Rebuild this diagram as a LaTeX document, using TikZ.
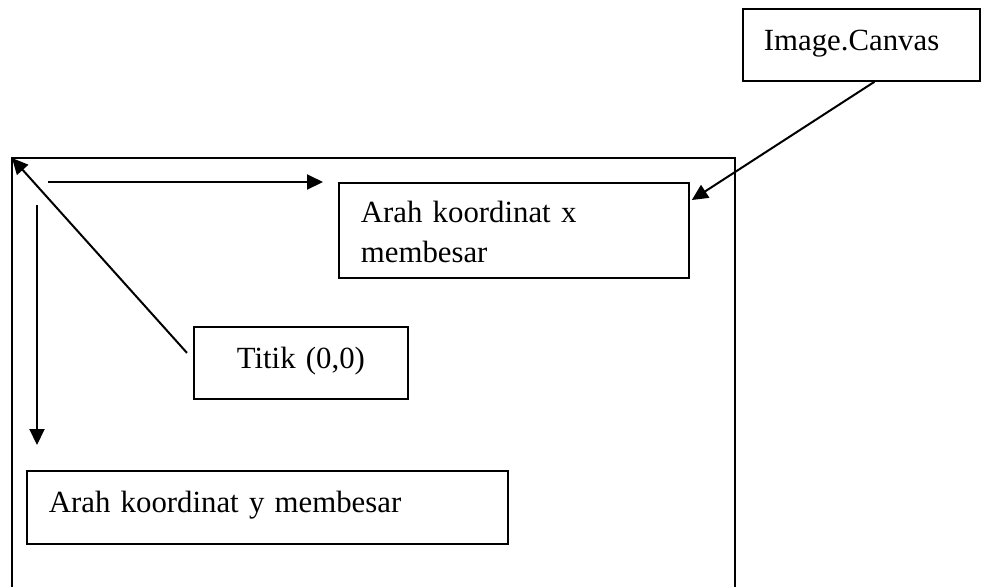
\documentclass[tikz,border=0pt]{standalone}
\usepackage{fontspec}
\setmainfont{Liberation Serif}
\usetikzlibrary{arrows.meta,positioning}
\tikzset{
  >={Triangle[length=8pt,width=7.5pt]},
  box/.style={draw,line width=0.9pt,anchor=north west,align=left,
    inner xsep=#1,inner ysep=0pt,font=\fontsize{15.4}{20}\selectfont},
  box/.default=11pt,
  flow/.style={->,line width=1pt},
}
\begin{document}
\begin{tikzpicture}[x=0.5pt,y=-0.5pt]
  \useasboundingbox (0,0) rectangle (981,586);
  % frame of the canvas (runs out at the bottom)
  \draw[line width=0.9pt] (12,620) -- (12,158) -- (735,158) -- (735,620);
  \coordinate (corner) at (12,158);
  \node[box=10.5pt,text width=97.5pt,text height=21pt,text depth=15pt] (canvas) at (742,8) {Image.Canvas};
  \node[box,text width=153pt,text height=20pt,text depth=27.5pt] (xdir) at (338,182) {Arah koordinat x\\membesar};
  \node[box,align=center,text width=85pt,text height=21pt,text depth=15pt] (origin) at (193,326) {Titik (0,0)};
  \node[box,text width=218.5pt,text height=21pt,text depth=15.5pt] (ydir) at (26,470) {Arah koordinat y membesar};
  \coordinate (xfrom) at ([xshift=18pt,yshift=-12pt]corner);
  \coordinate (xto) at ([xshift=155.5pt,yshift=-12pt]corner);
  \coordinate (yfrom) at ([xshift=12.5pt,yshift=-23.5pt]corner);
  \coordinate (yto) at ([xshift=12.5pt,yshift=-143.5pt]corner);
  \draw[flow] (xfrom) -- (xto);
  \draw[flow] (yfrom) -- (yto);
  \draw[flow] ([xshift=-3pt,yshift=5pt]origin.west) -- (corner);
  \draw[flow] ([xshift=6.5pt]canvas.south) -- ([xshift=1pt,yshift=-9pt]xdir.north east);
\end{tikzpicture}
\end{document}
